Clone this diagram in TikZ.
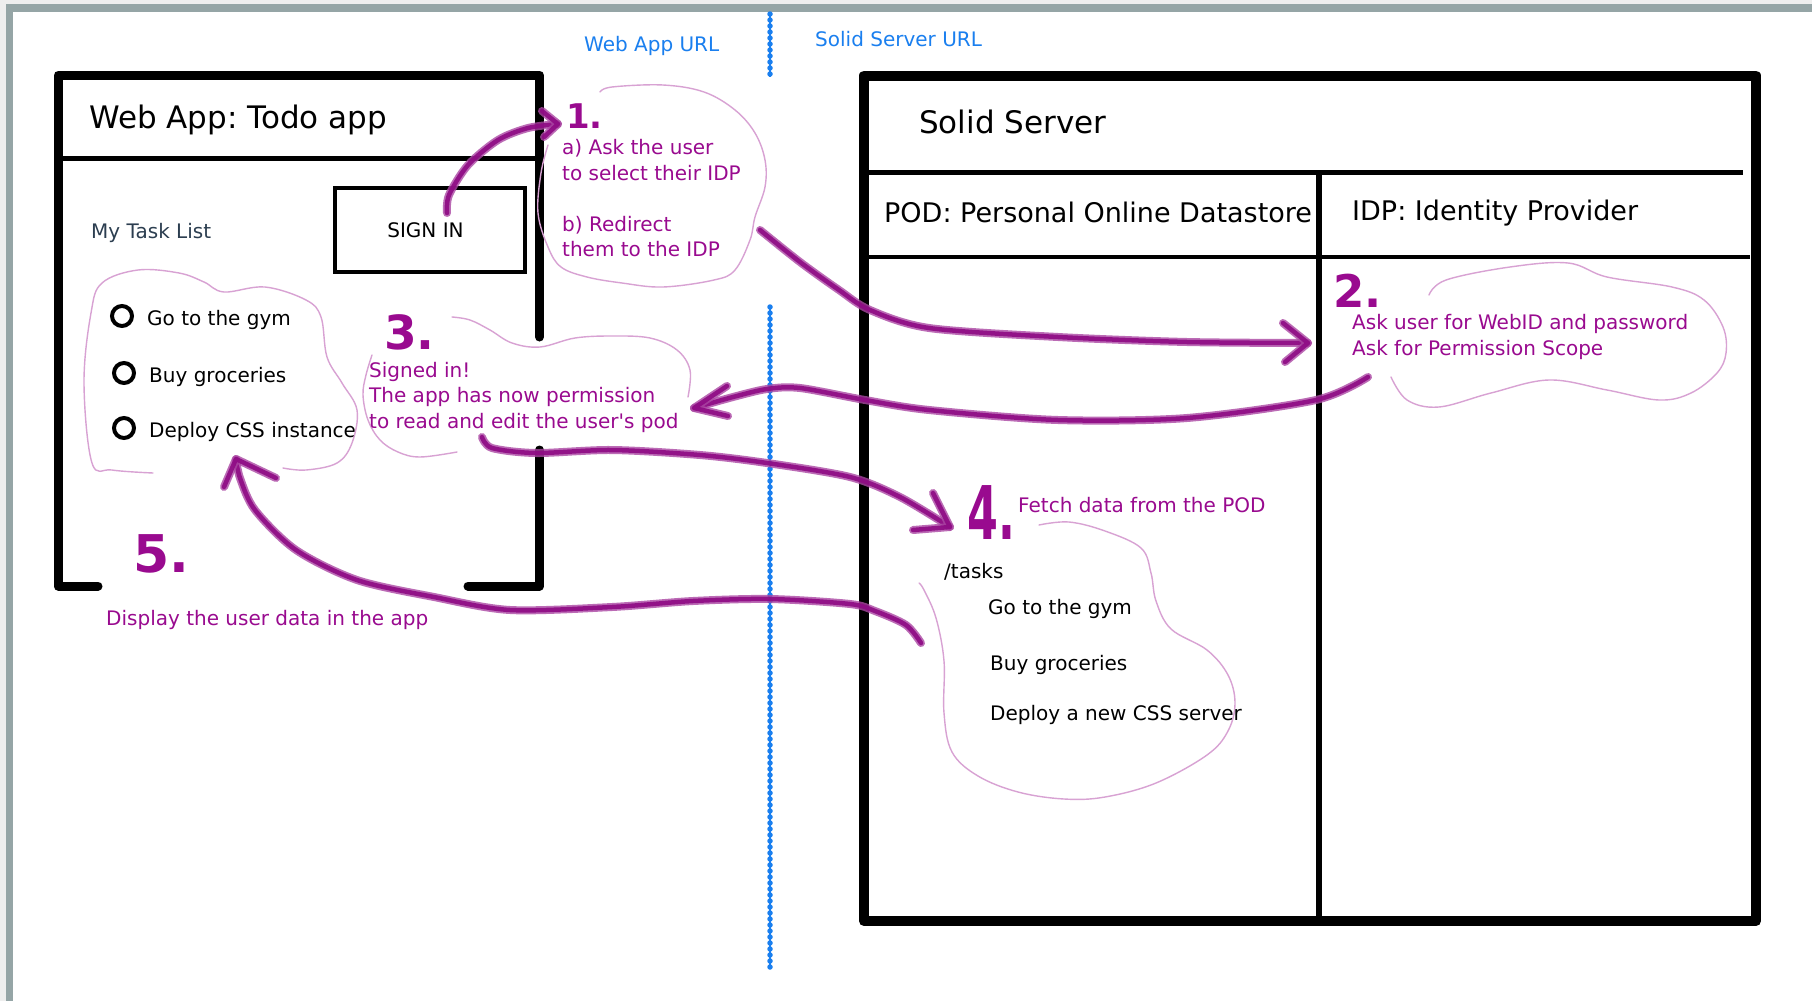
\documentclass[tikz,border=0pt]{standalone}
\usepackage{fontspec}
\setmainfont{DejaVu Sans}[Ligatures=TeXOff]
\usepackage{graphicx}
\definecolor{framegray}{HTML}{95A5A6}
\definecolor{bgout}{HTML}{EEEEEE}
\definecolor{tpurple}{HTML}{990A8F}
\definecolor{brushc}{HTML}{8E0A84}
\definecolor{cloudc}{HTML}{D8A2D3}
\definecolor{urlblue}{HTML}{1A7FEF}
\definecolor{slate}{HTML}{2C3E50}
\tikzset{
  txt/.style={anchor=base west, inner sep=0pt, font=\fontsize{20}{24}\selectfont},
  ptxt/.style={txt, text=tpurple},
  btxt/.style={txt, text=urlblue},
  numtxt/.style={anchor=base west, inner sep=0pt, text=tpurple},
  thickbox/.style={draw=black, line width=9pt, line join=round, line cap=round},
  brush/.style={draw=brushc!75!white, line width=8pt, line cap=round, line join=round, opacity=0.8,
    postaction={draw=brushc, line width=4.5pt, opacity=0.9}},
  cloudline/.style={draw=cloudc, line width=1.4pt, line cap=round, line join=round},
  dotline/.style={draw=urlblue, line width=5.5pt, line cap=round, dash pattern=on 0pt off 6pt,
    preaction={draw=urlblue, line width=2pt, dash pattern=}},
  taskcircle/.style={draw=black, line width=4pt, circle, minimum size=20pt, inner sep=0pt}
}
\begin{document}
\frenchspacing
\begin{tikzpicture}[x=1pt,y=-1pt]
\useasboundingbox (0,0) rectangle (1812,1001);
% page frame
\fill[bgout] (0,0) rectangle (1812,1001);
\fill[framegray] (6,4) rectangle (1812,1001);
\fill[white] (13,12) rectangle (1812,1001);

% URL separator (dotted)
\draw[dotline] (770,14) -- (770,77);
\draw[dotline] (770,307) -- (770,967);
\node[btxt] (webappurl) at (584,51) {Web App URL};
\node[btxt] (solidurl) at (815,46) {Solid Server URL};

% ---------- Web App box ----------
\draw[thickbox] (98,586) -- (58,586) -- (58,75) -- (539.5,75) -- (539.5,337);
\draw[thickbox] (539.5,450) -- (539.5,586) -- (468,586);
\draw[line width=5pt] (62,158) -- (535,158);
\node[anchor=base west, inner sep=0pt, font=\fontsize{31}{36}\selectfont] (webtitle) at (89,128) {Web App: Todo app};
\node[txt, text=slate] (mytasks) at (91,238) {My Task List};
\node[draw=black, line width=4.5pt, minimum width=190pt, minimum height=84pt, inner sep=0pt] (signin) at (430,230) {};
\node[inner sep=0pt, font=\fontsize{20}{24}\selectfont] (signintxt) at (425.5,230) {SIGN IN};

\node[taskcircle] (c1) at (122,316) {};
\node[taskcircle] (c2) at (124,373) {};
\node[taskcircle] (c3) at (124,428) {};
\node[txt] (t1) at (147,325) {Go to the gym};
\node[txt] (t2) at (149,382) {Buy groceries};
\node[txt] (t3) at (149,437) {Deploy CSS instance};

% ---------- Solid Server box ----------
\draw[draw=black, line width=10pt, line join=round] (864,75.5) rectangle (1756,921);
\draw[line width=5pt] (869,172) -- (1743,172);
\draw[line width=4.5pt] (869,257) -- (1750,257);
\draw[line width=6pt] (1319,174) -- (1319,916);
\node[anchor=base west, inner sep=0pt, font=\fontsize{31}{36}\selectfont] (solidtitle) at (919,133) {Solid Server};
\node[anchor=base west, inner sep=0pt, font=\fontsize{27}{32}\selectfont] (podtitle) at (884,222) {POD: Personal Online Datastore};
\node[anchor=base west, inner sep=0pt, font=\fontsize{27}{32}\selectfont] (idptitle) at (1352,220) {IDP: Identity Provider};

% ---------- clouds ----------
\draw[cloudline] plot[smooth, tension=0.6] coordinates {(283,468) (306,470) (337,463) (352,443) (357,410) (342,383) (327,357) (321,317) (306,300) (265,287) (224,292) (204,282) (179,273) (138,270) (102,283) (91,313) (84,383) (92,463) (112,470) (153,473)};
\draw[cloudline] plot[smooth, tension=0.6] coordinates {(600,92) (612,87) (663,85) (704,92) (735,110) (755,133) (765,160) (765,187) (755,217) (750,240) (735,270) (714,280) (663,287) (622,283) (587,277) (561,267) (548,247) (538,213) (541,173) (548,145)};
\draw[cloudline] plot[smooth, tension=0.6] coordinates {(452,317) (470,320) (490,330) (512,343) (540,347) (575,338) (612,336) (650,338) (677,350) (690,370) (688,397)};
\draw[cloudline] plot[smooth, tension=0.6] coordinates {(372,355) (366,375) (363,395) (368,420) (380,440) (398,452) (420,457) (457,452)};
\draw[cloudline] plot[smooth, tension=0.6] coordinates {(1429,295) (1446,280) (1510,267) (1568,263) (1607,277) (1672,287) (1704,300) (1723,327) (1726,353) (1717,373) (1691,393) (1659,400) (1607,390) (1549,380) (1491,393) (1439,407) (1407,400) (1391,377)};
\draw[cloudline] plot[smooth, tension=0.6] coordinates {(1039,525) (1069,522) (1105,531) (1141,548) (1151,573) (1156,601) (1171,629) (1207,650) (1228,675) (1235,703) (1228,731) (1207,755) (1156,783) (1105,797) (1064,799) (1018,792) (978,776) (952,752) (944,713) (944,661) (936,618) (924,590) (919,583)};

% ---------- texts in clouds ----------
\node[ptxt] (s1a) at (562,154) {a) Ask the user};
\node[ptxt] (s1b) at (562,180) {to select their IDP};
\node[ptxt] (s1c) at (562,231) {b) Redirect};
\node[ptxt] (s1d) at (562,256) {them to the IDP};

\node[ptxt] (s2a) at (1352,329) {Ask user for WebID and password};
\node[ptxt] (s2b) at (1352,355) {Ask for Permission Scope};

\node[ptxt] (s3a) at (369,377) {Signed in!};
\node[ptxt] (s3b) at (369,402) {The app has now permission};
\node[ptxt] (s3c) at (369,428) {to read and edit the user's pod};

\node[ptxt] (s4) at (1018,512) {Fetch data from the POD};
\node[txt] (ptasks) at (944,578) {/tasks};
\node[txt] (p1) at (988,614) {Go to the gym};
\node[txt] (p2) at (990,670) {Buy groceries};
\node[txt] (p3) at (990,720) {Deploy a new CSS server};

\node[ptxt] (s5) at (106,625) {Display the user data in the app};

% ---------- step numbers ----------
\node[numtxt, font=\bfseries\fontsize{34}{40}\selectfont] (n1) at (566,128) {1.};
\node[numtxt, font=\bfseries\fontsize{45}{50}\selectfont] (n2) at (1333,307) {2.};
\node[numtxt, font=\bfseries\fontsize{47}{52}\selectfont] (n3) at (384,349) {3.};
\node[numtxt, font=\bfseries\fontsize{74}{80}\selectfont] (n4) at (967,539) {\scalebox{0.6}[1]{4.}};
\node[numtxt, font=\bfseries\fontsize{52}{58}\selectfont] (n5) at (133,572) {5.};

% ---------- brush arrows ----------
\coordinate (a1s) at (447,213);
\coordinate (a1e) at (558,124);
\draw[brush] plot[smooth] coordinates {(a1s) (449,195) (468,165) (498,140) (528,128) (a1e)};
\draw[brush] (542,111) -- (a1e) -- (544,137);

\coordinate (a2s) at (760,230);
\coordinate (a2e) at (1308,343);
\draw[brush] plot[smooth] coordinates {(a2s) (800,262) (839,290) (870,310) (929,328) (1058,337) (1187,342) (a2e)};
\draw[brush] (1283,323) -- (a2e) -- (1285,362);

\coordinate (a3s) at (1368,377);
\coordinate (a3e) at (694,408);
\draw[brush] plot[smooth] coordinates {(a3s) (1316,400) (1187,418) (1058,420) (929,410) (865,400) (800,388) (767,389) (733,397) (a3e)};
\draw[brush] (727,386) -- (a3e) -- (728,416);

\coordinate (a4s) at (482,437);
\coordinate (a4e) at (950,527);
\draw[brush] plot[smooth] coordinates {(a4s) (492,448) (536,453) (612,450) (700,455) (767,463) (850,477) (900,497) (a4e)};
\draw[brush] (933,493) -- (a4e) -- (913,530);

\coordinate (a5s) at (921,643);
\coordinate (a5e) at (236,459);
\draw[brush] plot[smooth] coordinates {(a5s) (906,625) (875,611) (850,604) (770,599) (693,601) (612,607) (510,610) (434,597) (357,580) (296,550) (255,510) (240,478) (a5e)};
\draw[brush] (224,487) -- (a5e) -- (276,478);
\end{tikzpicture}
\end{document}
